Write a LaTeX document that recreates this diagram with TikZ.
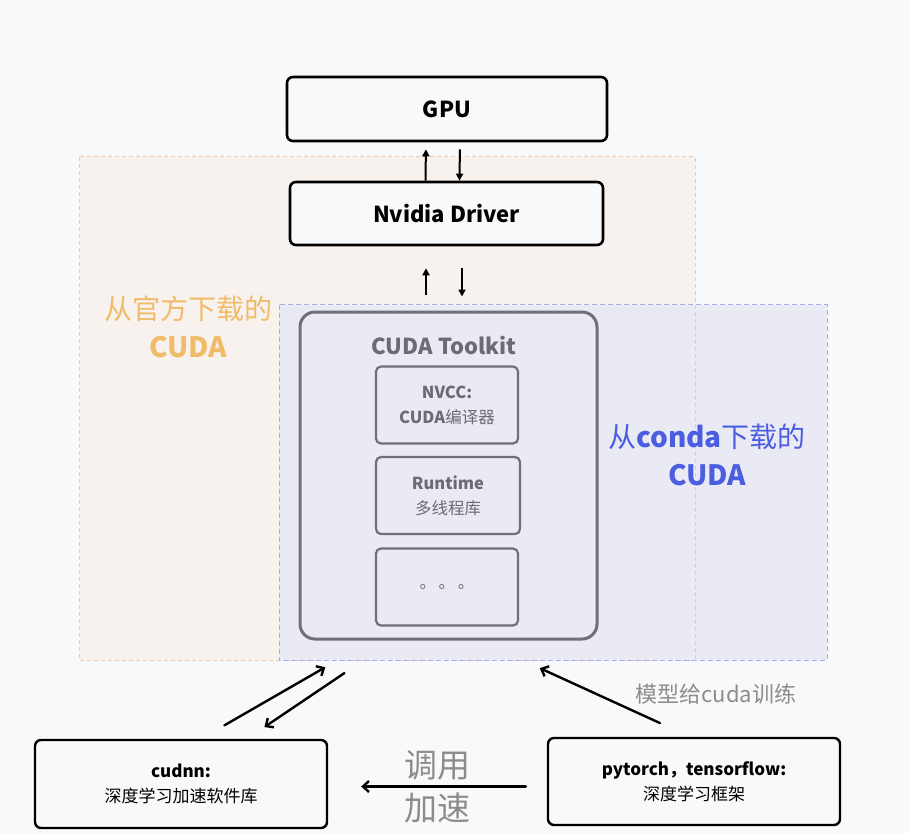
\documentclass[tikz,border=0pt]{standalone}
\usepackage{fontspec}
\setmainfont{Noto Sans CJK SC}
\usetikzlibrary{arrows.meta}
\definecolor{bgc}{HTML}{F8F9FB}
\definecolor{orfill}{HTML}{F8F2EF}
\definecolor{ordash}{HTML}{F3C9A8}
\definecolor{blfill}{HTML}{EAEAF5}
\definecolor{bldash}{HTML}{A6AEF0}
\definecolor{orlabel}{HTML}{F0BC6A}
\definecolor{bllabel}{HTML}{4B5DE0}
\definecolor{tkgray}{HTML}{6E6F78}
\definecolor{txgray}{HTML}{6B6C72}
\definecolor{lbgray}{HTML}{8C8C8C}
\tikzset{
  box/.style={draw=black,line width=2.6pt,rounded corners=6pt,fill=bgc,align=center,font=\bfseries\fontsize{22}{24}\selectfont},
  smallbox/.style={draw=black,line width=2.4pt,rounded corners=6pt,fill=bgc,align=center,font=\fontsize{17}{25}\selectfont},
  innerbox/.style={draw=tkgray,line width=2.2pt,rounded corners=5pt,align=center,text=txgray,font=\fontsize{16.5}{25}\selectfont,minimum width=142pt,minimum height=77pt},
  arr/.style={line width=2pt,-{Triangle[length=7pt,width=7pt]}},
  barr/.style={line width=2.4pt,line cap=round,-{Straight Barb[length=6pt,width=11pt]}},
}
\begin{document}
\begin{tikzpicture}[x=1pt,y=-1pt]
\fill[bgc] (0,0) rectangle (910,833);
\useasboundingbox (0,0) rectangle (910,833);
% regions
\node[fill=orfill,minimum width=615pt,minimum height=503pt,inner sep=0pt] (official) at (387.5,408.5) {};
\node[fill=blfill,minimum width=547pt,minimum height=355pt,inner sep=0pt] (conda) at (553.5,482.5) {};
\draw[ordash,line width=1pt,dash pattern=on 4pt off 3pt] (official.north west) rectangle (official.south east);
\draw[bldash,line width=1.2pt,dash pattern=on 5pt off 3pt] (conda.north west) rectangle (conda.south east);
% labels of regions
\node[text=orlabel,align=center,font=\fontsize{28}{38}\selectfont] (offlabel) at (188,327) {从官方下载的\\\bfseries CUDA};
\node[text=bllabel,align=center,font=\fontsize{28}{38}\selectfont] (condalabel) at (707,455) {从\textbf{conda}下载的\\\bfseries CUDA};
% top boxes
\node[box,minimum width=320pt,minimum height=64pt] (gpu) at (447,109) {GPU};
\node[box,minimum width=313pt,minimum height=63pt] (drv) at (446.5,213.5) {Nvidia Driver};
% toolkit
\node[draw=tkgray,line width=3pt,rounded corners=15pt,minimum width=297pt,minimum height=327pt] (tk) at (448.5,475.5) {};
\node[text=txgray,font=\bfseries\fontsize{22}{24}\selectfont] (tktitle) at (444,346) {CUDA Toolkit};
\node[innerbox] (nvcc) at (447,405) {\textbf{NVCC:}\\\textbf{CUDA}编译器};
\node[innerbox,minimum width=144pt] (rt) at (448,495.5) {\textbf{Runtime}\\多线程库};
\node[innerbox] (etc) at (447,587) {。\,。\,。};
% bottom boxes
\node[smallbox,minimum width=292pt,minimum height=88pt] (cudnn) at (181,784) {\textbf{cudnn:}\\深度学习加速软件库};
\node[smallbox,minimum width=292pt,minimum height=87pt] (py) at (694,781.5) {\textbf{pytorch，tensorflow:}\\深度学习框架};
% arrows top
\draw[arr,shorten >=7pt] ([xshift=-21pt]drv.north) -- ([xshift=-21pt]gpu.south);
\draw[arr,shorten <=7pt] ([xshift=13pt]gpu.south) -- ([xshift=13pt]drv.north);
\draw[arr,shorten <=16pt,shorten >=22pt] ([xshift=-22.5pt]tk.north) -- ([xshift=-20.5pt]drv.south);
\draw[arr,shorten <=22pt,shorten >=14pt] ([xshift=15.5pt]drv.south) -- ([xshift=13.5pt]tk.north);
% arrows bottom
\draw[barr,shorten <=27pt,shorten >=14pt] ([xshift=20pt]cudnn.north) -- ([xshift=-216pt]conda.south);
\draw[barr,shorten <=23pt,shorten >=21pt] ([xshift=-190pt]conda.south) -- ([xshift=66pt]cudnn.north);
\draw[barr,shorten <=33pt,shorten >=19pt] ([xshift=-4pt]py.north) -- ([xshift=-31pt]conda.south);
\node[text=lbgray,font=\fontsize{22}{24}\selectfont] (trainlabel) at (716,694) {模型给cuda训练};
\draw[barr,shorten <=21pt,shorten >=33pt] ([yshift=-5pt]py.west) -- ([yshift=-5pt]py.west -| cudnn.east)
  node[pos=0.5,above=2pt,text=lbgray,font=\fontsize{33}{36}\selectfont] (calllabel) {调用}
  node[pos=0.5,below=2pt,text=lbgray,font=\fontsize{33}{36}\selectfont] (acclabel) {加速};
\end{tikzpicture}
\end{document}
